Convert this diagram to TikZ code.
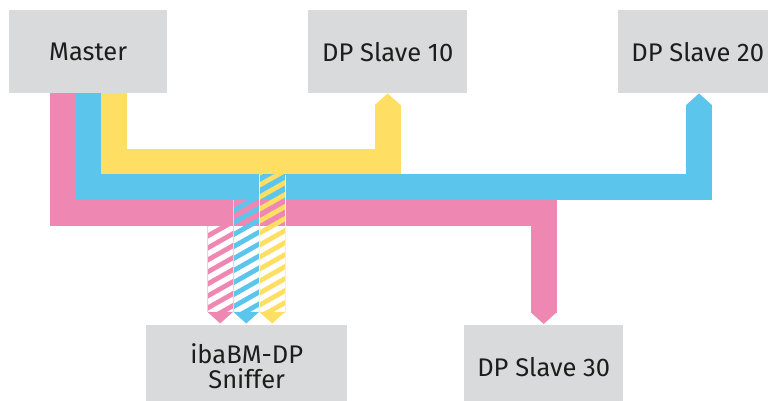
\documentclass[tikz,border=0pt]{standalone}
\usepackage{fontspec}
\setmainfont{Fira Sans}
\usetikzlibrary{calc}

\definecolor{busPink}{RGB}{238,136,178}
\definecolor{busBlue}{RGB}{92,197,236}
\definecolor{busYellow}{RGB}{255,223,99}
\definecolor{boxGray}{RGB}{217,218,220}
\definecolor{ink}{RGB}{29,29,27}

\tikzset{
  station/.style={fill=boxGray, anchor=north west, inner sep=0pt,
    minimum width=159pt, minimum height=83pt, text=ink, align=center,
    font=\fontsize{25.5}{25}\selectfont},
  bus/.style={line width=25.6pt, line join=miter, line cap=butt},
  tipup/.pic={\fill (-12.8,11.6) -- (12.8,11.6) -- (0,0) -- cycle;},
  tipdown/.pic={\fill (-12.8,-11.6) -- (12.8,-11.6) -- (0,0) -- cycle;},
  hatch/.style={line width=4.8pt},
  tapedge/.style={line width=0.5pt},
}

\begin{document}
\begin{tikzpicture}[x=1pt,y=-1pt]
  \useasboundingbox (0,0) rectangle (768,401);

  % stations
  \node[station, minimum width=158pt] (master) at (9,10) {Master};
  \node[station] (slave10) at (308,10) {DP Slave 10};
  \node[station] (slave20) at (618,10) {DP Slave 20};
  \node[station, minimum width=201pt] (sniffer) at (146,325) {ibaBM-DP\\Sniffer};
  \node[station] (slave30) at (464,325) {DP Slave 30};

  % bus lanes leaving the master and their horizontal runs
  \coordinate (yOut) at ($(master.south west)+(104.75,0)$);
  \coordinate (bOut) at ($(master.south west)+(79.25,0)$);
  \coordinate (pOut) at ($(master.south west)+(53.75,0)$);
  \coordinate (yLane) at (0,161.75);
  \coordinate (bLane) at (0,187.25);
  \coordinate (pLane) at (0,212.75);
  \coordinate (yIn) at (slave10.south);
  \coordinate (bIn) at ($(slave20.south west)+(81,0)$);
  \coordinate (pIn) at ($(slave30.north)+(0,-1)$);

  % yellow bus: master -> DP Slave 10
  \draw[bus, busYellow] (yOut) |- (yLane -| yIn) -- ($(yIn)+(0,11.3)$);
  \pic[busYellow] at (yIn) {tipup};
  % blue bus: master -> DP Slave 20
  \draw[bus, busBlue] (bOut) |- (bLane -| bIn) -- ($(bIn)+(0,11.3)$);
  \pic[busBlue] at (bIn) {tipup};
  % pink bus: master -> DP Slave 30
  \draw[bus, busPink] (pOut) |- (pLane -| pIn) -- ($(pIn)+(0,-11.3)$);
  \pic[busPink] at (pIn) {tipdown};

  % hatched taps from each bus down to the sniffer
  \foreach \c/\x/\s in {busPink/220/225.5, busBlue/246/200, busYellow/272/174.5} {
    \fill[white] (\x-13,225.5) rectangle (\x+13,312.6);
    \begin{scope}
      \clip (\x-13,\s) rectangle (\x+13,312.6);
      \foreach \k in {-1,...,14}
        \draw[\c, hatch] (\x-15,\s+\k*12) -- (\x+15,\s+\k*12-17);
    \end{scope}
    \draw[\c!45, tapedge] (\x-12.8,\s) -- (\x-12.8,312) (\x+12.8,\s) -- (\x+12.8,312);
    \coordinate (tapTip) at ($(sniffer.north)+(\x-246.5,-1.5)$);
    \pic[\c] at (tapTip) {tipdown};
  }
\end{tikzpicture}
\end{document}
